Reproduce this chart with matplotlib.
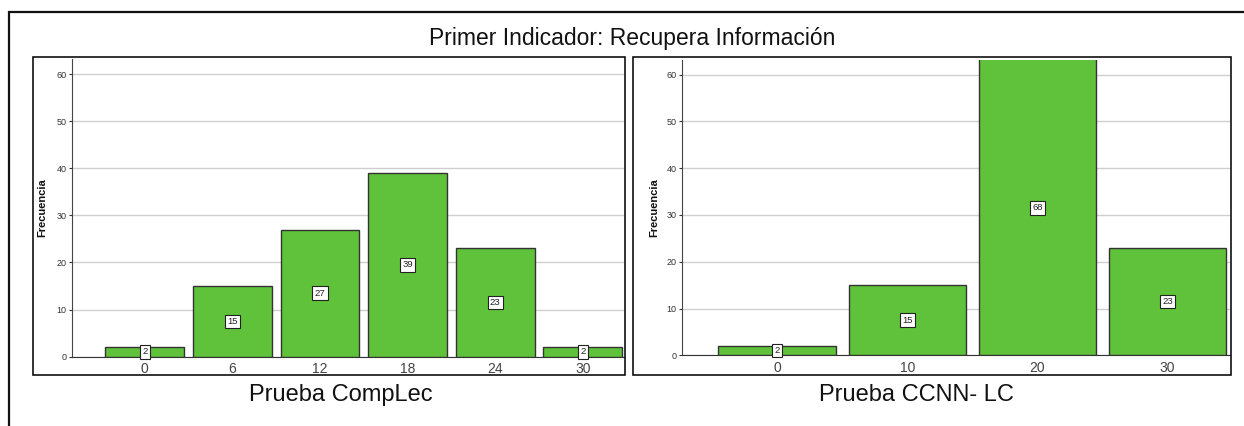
import matplotlib
matplotlib.use("Agg")
import matplotlib.pyplot as plt
from matplotlib.patches import Rectangle

plt.rcParams['font.family'] = ['Liberation Sans', 'DejaVu Sans']

# ---- data ----
title = "Primer Indicador: Recupera Información"
ylabel = "Frecuencia"

left_categories = ["0", "6", "12", "18", "24", "30"]
left_values = [2, 15, 27, 39, 23, 2]
left_xlabel = "Prueba CompLec"

right_categories = ["0", "10", "20", "30"]
right_values = [2, 15, 68, 23]
right_xlabel = "Prueba CCNN- LC"

yticks = [0, 10, 20, 30, 40, 50, 60]

# ---- style ----
W, H = 1244, 426
BAR = "#5fc23a"
EDGE = "#333333"
GRID = "#cfcfcf"

fig = plt.figure(figsize=(W / 100, H / 100), dpi=100)


def fx(px):
    return px / W


def fy(py):
    return 1 - py / H


# outer border (extends beyond the image on right/bottom)
fig.add_artist(Rectangle((fx(9), fy(500)), fx(1300), fy(12) - fy(500),
                         transform=fig.transFigure, fill=False,
                         edgecolor="#111111", lw=1.6))

# panel frames
for x0, x1 in [(33, 625), (633, 1231)]:
    fig.add_artist(Rectangle((fx(x0), fy(375)), fx(x1) - fx(x0), fy(57) - fy(375),
                             transform=fig.transFigure, fill=False,
                             edgecolor="#111111", lw=1.2, zorder=5))


def panel(rect, cats, vals, xlim, ylim_top, xlabel, xlabel_x, ylabel_x):
    ax = fig.add_axes(rect)
    pos = list(range(len(cats)))
    ax.set_axisbelow(True)
    ax.yaxis.grid(True, color=GRID, lw=1)
    ax.bar(pos, vals, width=0.9, color=BAR, edgecolor=EDGE, lw=1, zorder=3)
    ax.set_xlim(*xlim)
    ax.set_ylim(0, ylim_top)
    ax.set_yticks(yticks)
    ax.set_yticklabels([str(t) for t in yticks])
    ax.set_xticks(pos)
    ax.set_xticklabels(cats)
    ax.tick_params(axis="y", labelsize=6.5, colors="#333333", length=2, pad=2)
    ax.tick_params(axis="x", labelsize=10, colors="#444444", length=0, pad=4)
    for s in ["top", "right"]:
        ax.spines[s].set_visible(False)
    ax.spines["left"].set_color("#444444")
    ax.spines["bottom"].set_color("#333333")
    for p, v in zip(pos, vals):
        ax.text(p, min(v, ylim_top) / 2, str(v), ha="center", va="center",
                fontsize=6.8, color="#222222", zorder=6,
                bbox=dict(boxstyle="square,pad=0.25", fc="white", ec="#222222", lw=0.8))
    b = ax.get_position()
    fig.text(fx(ylabel_x), (b.y0 + b.y1) / 2, ylabel, rotation=90, ha="center",
             va="center", fontsize=8, fontweight="bold", color="#111111")
    fig.text(fx(xlabel_x), fy(395), xlabel, ha="center", va="center",
             fontsize=17, color="#111111")
    return ax


panel([fx(72), fy(356.7), fx(624) - fx(72), fy(59) - fy(356.7)],
      left_categories, left_values, (-0.83, 5.47), 63.2, left_xlabel, 341, 42)

panel([fx(682), fy(355.3), fx(1230) - fx(682), fy(60) - fy(355.3)],
      right_categories, right_values, (-0.73, 3.48), 63.1, right_xlabel, 916, 654)

fig.text(fx(632), fy(39), title, ha="center", va="center", fontsize=16.5,
         color="#111111")

fig.savefig("out.png", dpi=100, facecolor="white")
